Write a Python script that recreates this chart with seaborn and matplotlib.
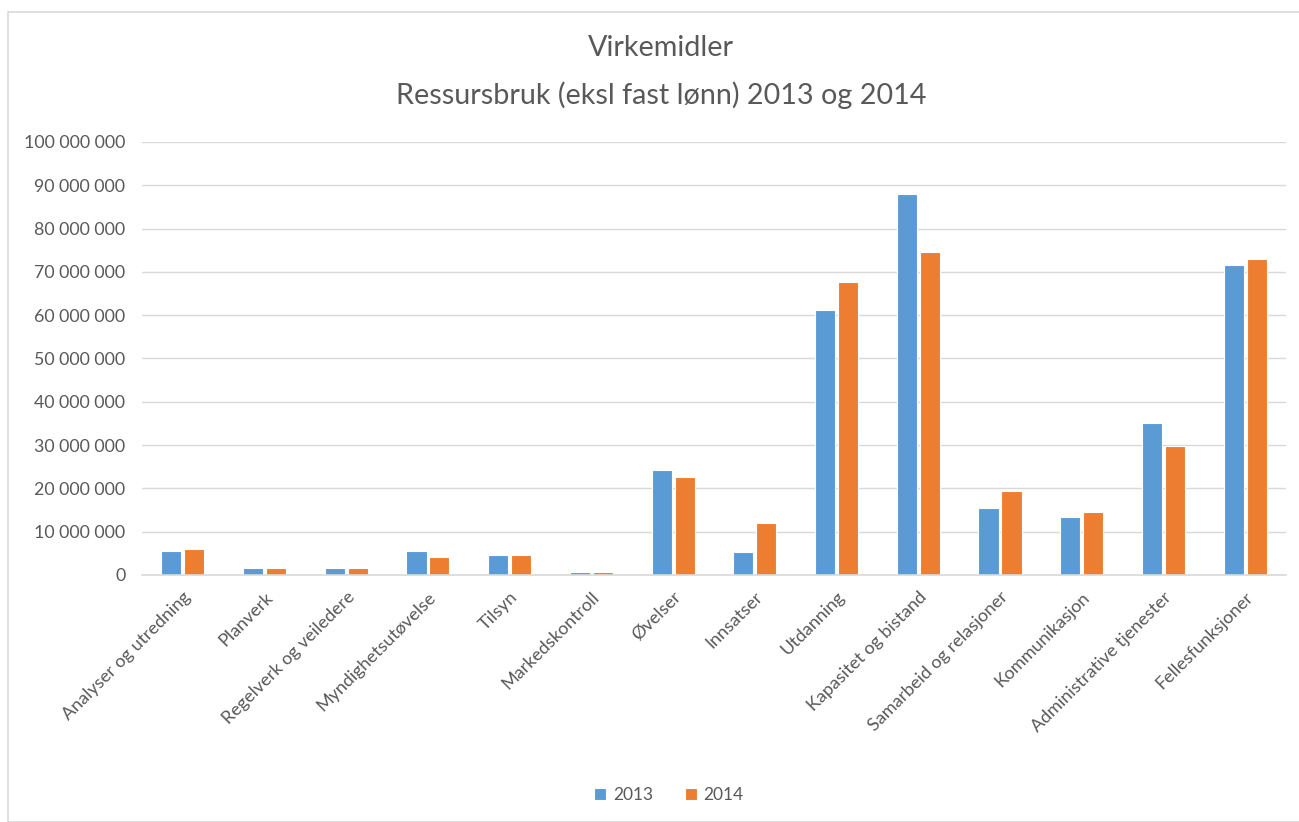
"""
Virkemidler - ressursbruk (eksl fast lønn) 2013 og 2014
Grouped bar chart rebuilt with seaborn.
"""

import matplotlib
matplotlib.use("Agg")
import matplotlib.pyplot as plt
from matplotlib.patches import Rectangle
from matplotlib.ticker import FuncFormatter, MultipleLocator
import pandas as pd
import seaborn as sns


# ─────────────────────────────────────────────
# Data
# ─────────────────────────────────────────────

categories = [
    "Analyser og utredning", "Planverk", "Regelverk og veiledere",
    "Myndighetsutøvelse", "Tilsyn", "Markedskontroll", "Øvelser",
    "Innsatser", "Utdanning", "Kapasitet og bistand",
    "Samarbeid og relasjoner", "Kommunikasjon",
    "Administrative tjenester", "Fellesfunksjoner",
]
values_2013 = [5.5e6, 1.7e6, 1.7e6, 5.5e6, 4.6e6, 0.8e6, 24.2e6,
               5.2e6, 61.3e6, 88.0e6, 15.5e6, 13.5e6, 35.0e6, 71.7e6]
values_2014 = [6.0e6, 1.7e6, 1.7e6, 4.1e6, 4.6e6, 0.7e6, 22.7e6,
               12.0e6, 67.7e6, 74.5e6, 19.5e6, 14.5e6, 29.7e6, 73.0e6]
years = ["2013", "2014"]

COLORS = {"2013": "#5B9BD5", "2014": "#ED7D31"}
TEXT_GREY = "#595959"
GRID_GREY = "#D9D9D9"


df = pd.DataFrame({
    "kategori": categories * 2,
    "verdi": values_2013 + values_2014,
    "år": [years[0]] * len(categories) + [years[1]] * len(categories),
})


# ─────────────────────────────────────────────
# Plot
# ─────────────────────────────────────────────

sns.set_theme(style="white")
plt.rcParams["font.family"] = ["Lato", "DejaVu Sans"]

fig = plt.figure(figsize=(12.99, 8.22), dpi=100)
ax = fig.add_axes([0.1093, 0.3005, 0.8807, 0.5268])

sns.barplot(data=df, x="kategori", y="verdi", hue="år", palette=COLORS,
            width=0.56, gap=0.12, edgecolor="white", linewidth=0.8,
            saturation=1, ax=ax, legend=True)

# axes styling
ax.set_ylim(0, 100e6)
ax.yaxis.set_major_locator(MultipleLocator(10e6))
ax.yaxis.set_major_formatter(
    FuncFormatter(lambda v, _: f"{int(v):,}".replace(",", " ")))
ax.grid(axis="y", color=GRID_GREY, linewidth=1)
ax.set_axisbelow(True)
for side in ["top", "right", "left"]:
    ax.spines[side].set_visible(False)
ax.spines["bottom"].set_color(GRID_GREY)
ax.spines["bottom"].set_linewidth(1.2)
ax.set_xlabel("")
ax.set_ylabel("")

ax.tick_params(axis="y", length=0, pad=12, labelsize=12.8, labelcolor=TEXT_GREY)
ax.tick_params(axis="x", length=0, pad=10, labelsize=13, labelcolor=TEXT_GREY)
plt.setp(ax.get_xticklabels(), rotation=45, ha="right",
         rotation_mode="anchor")

# legend at the bottom
handles, labels = ax.get_legend_handles_labels()
ax.legend(handles, labels, loc="center", bbox_to_anchor=(0.515, 1 - 795 / 822),
          bbox_transform=fig.transFigure, ncol=2, frameon=False,
          fontsize=12.5, labelcolor=TEXT_GREY, handlelength=0.7,
          handleheight=0.7, handletextpad=0.4, columnspacing=1.8)

# titles
fig.text(0.509, 1 - 48 / 822, "Virkemidler", ha="center", va="center",
         fontsize=20.7, color=TEXT_GREY)
fig.text(0.509, 1 - 95 / 822, "Ressursbruk (eksl fast lønn) 2013 og 2014",
         ha="center", va="center", fontsize=20.7, color=TEXT_GREY)

# chart frame
fig.patches.append(Rectangle((8 / 1299, 0), 1.1, 1 - 12 / 822,
                             transform=fig.transFigure, fill=False,
                             edgecolor="#D9D9D9", linewidth=1.2))

fig.savefig("out.png", dpi=100)
